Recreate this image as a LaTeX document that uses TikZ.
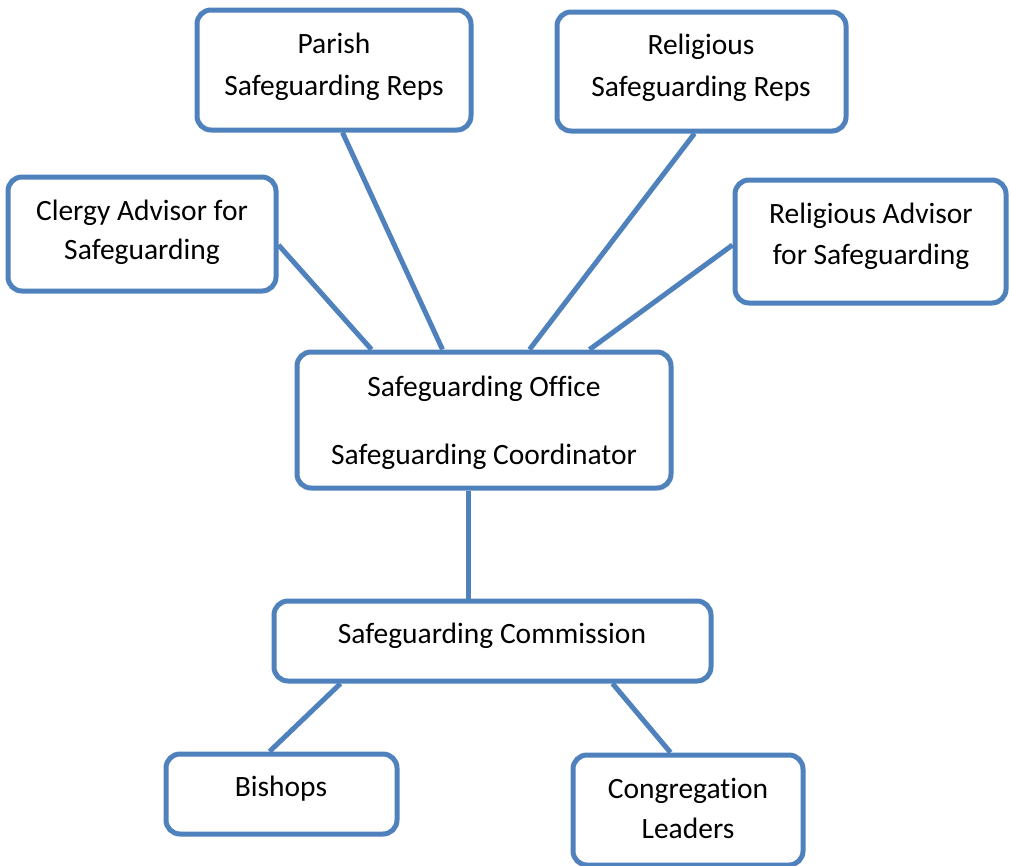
\documentclass[tikz,border=0pt]{standalone}
\usepackage{fontspec}
\setmainfont[RawFeature={-liga;-clig;-calt;-dlig}]{Carlito}
\definecolor{boxblue}{HTML}{4F81BD}
\begin{document}
\begin{tikzpicture}[x=1pt,y=-1pt,
  box/.style={draw=boxblue,line width=5pt,rounded corners=14pt,fill=white,inner sep=0pt},
  lbl/.style={anchor=base,inner sep=0pt,font=\fontsize{29.5}{34}\selectfont},
  link/.style={draw=boxblue,line width=5pt}]
\useasboundingbox (0,0) rectangle (1011,865);
\node[box,minimum width=274pt,minimum height=120pt] (parish) at (334,70) {};
\node[box,minimum width=289pt,minimum height=119pt] (relreps) at (701.5,71.5) {};
\node[box,minimum width=268pt,minimum height=114pt] (clergy) at (142,234) {};
\node[box,minimum width=271pt,minimum height=123pt] (reladv) at (870.5,241.5) {};
\node[box,minimum width=374pt,minimum height=136pt] (office) at (484,420) {};
\node[box,minimum width=437pt,minimum height=80pt] (comm) at (492.5,641) {};
\node[box,minimum width=231pt,minimum height=80pt] (bishops) at (281.5,794) {};
\node[box,minimum width=230pt,minimum height=110pt] (congr) at (688,810) {};

\node[lbl] (t1) at (334,53) {Parish};
\node[lbl] (t2) at (334,95) {Safeguarding Reps};
\node[lbl] (t3) at (701,54) {Religious};
\node[lbl] (t4) at (701,96) {Safeguarding Reps};
\node[lbl] (t5) at (142,220) {Clergy Advisor for};
\node[lbl] (t6) at (142,259) {Safeguarding};
\node[lbl] (t7) at (871,223) {Religious Advisor};
\node[lbl] (t8) at (871,264) {for Safeguarding};
\node[lbl] (t9) at (484,396) {Safeguarding Office};
\node[lbl] (t10) at (484,464) {Safeguarding Coordinator};
\node[lbl] (t11) at (492,643) {Safeguarding Commission};
\node[lbl] (t12) at (281,796) {Bishops};
\node[lbl] (t13) at (688,798) {Congregat\kern0pt ion};
\node[lbl] (t14) at (688,838) {Leaders};

\draw[link] ([xshift=148pt]parish.south west) -- ([xshift=148pt]office.north west);
\draw[link] ([xshift=140pt]relreps.south west) -- ([xshift=235pt]office.north west);
\draw[link] ([yshift=-11pt]clergy.east) -- ([xshift=77pt]office.north west);
\draw[link] ([yshift=-3.5pt]reladv.west) -- ([xshift=295pt]office.north west);
\draw[link] ([xshift=174pt]office.south west) -- ([xshift=197pt]comm.north west);
\draw[link] ([xshift=69pt]comm.south west) -- ([xshift=106pt]bishops.north west);
\draw[link] ([xshift=341pt]comm.south west) -- ([xshift=100pt]congr.north west);
\end{tikzpicture}
\end{document}
